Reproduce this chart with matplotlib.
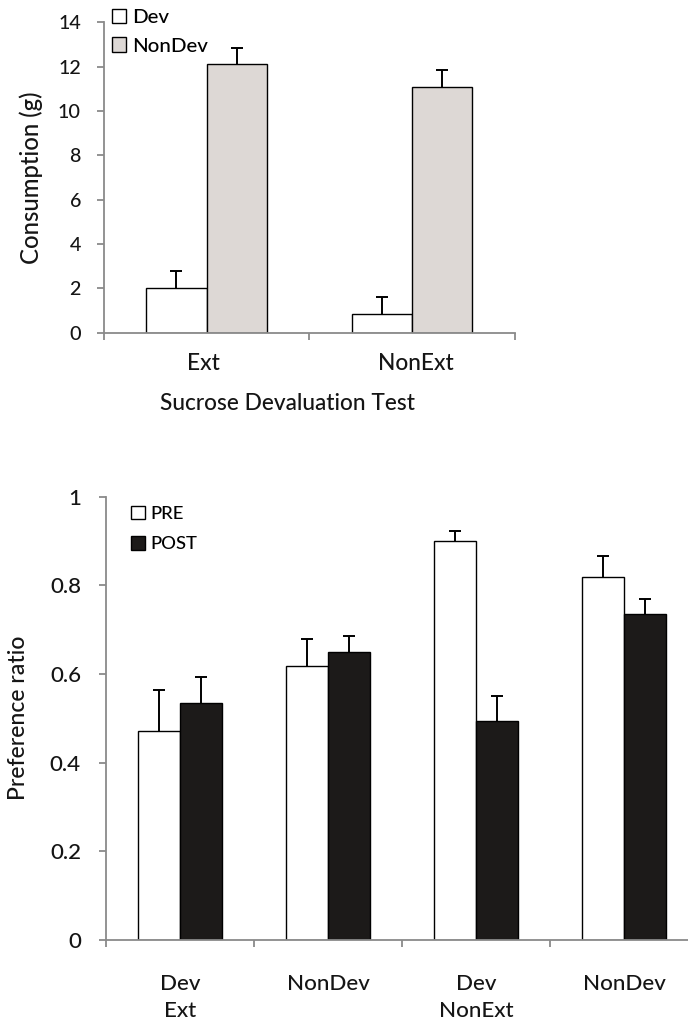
import matplotlib
matplotlib.use("Agg")
import matplotlib.pyplot as plt
import numpy as np

plt.rcParams['font.family'] = ['Lato', 'DejaVu Sans']
plt.rcParams['font.weight'] = 500

# ---- Top chart data ----
top_groups = ["Ext", "NonExt"]
top_series = ["Dev", "NonDev"]
top_dev = [2.0, 0.82]
top_dev_err = [0.78, 0.80]
top_nondev = [12.1, 11.1]
top_nondev_err = [0.72, 0.73]
top_yticks = [0, 2, 4, 6, 8, 10, 12, 14]

# ---- Bottom chart data ----
bot_cats = ["Dev", "NonDev", "Dev", "NonDev"]
bot_groups = ["Ext", "NonExt"]
bot_series = ["PRE", "POST"]
bot_pre = [0.471, 0.619, 0.900, 0.819]
bot_pre_err = [0.092, 0.059, 0.023, 0.048]
bot_post = [0.534, 0.649, 0.494, 0.736]
bot_post_err = [0.060, 0.036, 0.057, 0.032]
bot_yticks = [0, 0.2, 0.4, 0.6, 0.8, 1.0]
bot_yticklabels = ["0", "0.2", "0.4", "0.6", "0.8", "1"]

W, H = 688, 1026
DPI = 100
fig = plt.figure(figsize=(W / DPI, H / DPI), dpi=DPI)
renderer = fig.canvas.get_renderer()

AX_COL = "#8a8a8a"
GRAY = "#ddd8d5"
BLACK = "#1c1a19"
TXT = "#151515"
PT = 72 / DPI  # points per pixel


def fit(s, target_px):
    t = fig.text(0, 0, s, fontsize=10)
    w = t.get_window_extent(renderer=renderer).width
    t.remove()
    return 10 * target_px / w


fs_top_tick = fit("14", 23)
fs_bot_tick = fit("0.8", 31)
fs_top_cat = fit("NonExt", 76)
fs_xlabel = fit("Sucrose Devaluation Test", 256)
fs_bot_cat = fit("NonDev", 83)
fs_top_leg = fit("NonDev", 76)
fs_bot_leg = fit("POST", 47)
fs_ylab1 = fit("Consumption (g)", 173)
fs_ylab2 = fit("Preference ratio", 165)


def px_axes(left, right, top, bottom):
    return fig.add_axes([left / W, 1 - bottom / H, (right - left) / W, (bottom - top) / H])


def style(ax, fs_tick, pad_px):
    for s in ["top", "right"]:
        ax.spines[s].set_visible(False)
    for s in ["left", "bottom"]:
        ax.spines[s].set_color(AX_COL)
        ax.spines[s].set_linewidth(1.3)
    ax.tick_params(axis="y", direction="out", length=7 * PT, width=1.3, color=AX_COL,
                   labelsize=fs_tick, pad=pad_px * PT, labelcolor=TXT)
    ax.tick_params(axis="x", direction="out", length=7 * PT, width=1.3,
                   color=AX_COL, labelbottom=False)


def upper_err(ax, xs, ys, errs):
    tops = np.asarray(ys) + np.asarray(errs)
    ax.vlines(xs, ys, tops, colors="black", linewidth=1.4, zorder=1)
    ax.plot(xs, tops, ls="none", marker="_", ms=8.5, mew=1.4, color="black", zorder=1)


def under_label(ax, s, xdata, offset_px, fs, dx=0):
    ax.annotate(s, xy=(xdata, 0), xycoords=("data", "axes fraction"),
                xytext=(dx, -offset_px), textcoords="offset pixels",
                ha="center", va="baseline", fontsize=fs, color=TXT,
                annotation_clip=False)


# ---------- Top chart ----------
ax1 = px_axes(103.8, 514.7, 22.3, 332.5)
ngr = len(top_groups)
x = np.arange(ngr) + 0.5
bw = 0.294
ax1.bar(x - bw / 2, top_dev, bw, color="white", edgecolor="black", linewidth=1.0,
        label=top_series[0], zorder=2)
upper_err(ax1, x - bw / 2, top_dev, top_dev_err)
ax1.bar(x + bw / 2, top_nondev, bw, color=GRAY, edgecolor="black", linewidth=1.0,
        label=top_series[1], zorder=2)
upper_err(ax1, x + bw / 2, top_nondev, top_nondev_err)
ax1.set_xlim(0, ngr)
ax1.set_ylim(0, 14)
ax1.set_yticks(top_yticks)
ax1.set_xticks(np.arange(ngr + 1))
style(ax1, fs_top_tick, 15.8)
for i, g in enumerate(top_groups):
    under_label(ax1, g, x[i], 37.5, fs_top_cat, dx=(-3 if i == 0 else 4))
under_label(ax1, "Sucrose Devaluation Test", ngr / 2, 77.5, fs_xlabel, dx=-22)
ax1.annotate("Consumption (g)", xy=(31, 0.5), xycoords=("figure pixels", "axes fraction"),
             rotation=90, ha="center", va="center", fontsize=fs_ylab1, color=TXT)
fl = fs_top_leg * DPI / 72
ax1.legend(loc="upper left", bbox_to_anchor=(108 / W, 1 - 5 / H),
           bbox_transform=fig.transFigure, frameon=False,
           fontsize=fs_top_leg, handlelength=14 / fl, handleheight=14 / fl,
           handletextpad=6 / fl, labelspacing=0.15 + 8 / fl, borderaxespad=0, borderpad=0.2)

# ---------- Bottom chart ----------
ax2 = px_axes(106, 698, 496.6, 940)
nc = len(bot_cats)
x2 = np.arange(nc) + 0.5
bw2 = 0.284
ax2.bar(x2 - bw2 / 2, bot_pre, bw2, color="white", edgecolor="black", linewidth=1.0,
        label=bot_series[0], zorder=2)
upper_err(ax2, x2 - bw2 / 2, bot_pre, bot_pre_err)
ax2.bar(x2 + bw2 / 2, bot_post, bw2, color=BLACK, edgecolor="black", linewidth=1.0,
        label=bot_series[1], zorder=2)
upper_err(ax2, x2 + bw2 / 2, bot_post, bot_post_err)
ax2.set_xlim(0, nc)
ax2.set_ylim(0, 1)
ax2.set_yticks(bot_yticks)
ax2.set_yticklabels(bot_yticklabels)
ax2.set_xticks(np.arange(nc + 1))
style(ax2, fs_bot_tick, 18)
for i, c in enumerate(bot_cats):
    under_label(ax2, c, x2[i], 50, fs_bot_cat)
for gi, g in enumerate(bot_groups):
    under_label(ax2, g, x2[gi * 2], 76.7, fs_bot_cat)
ax2.annotate("Preference ratio", xy=(19, 0.5), xycoords=("figure pixels", "axes fraction"),
             rotation=90, ha="center", va="center", fontsize=fs_ylab2, color=TXT)
fl2 = fs_bot_leg * DPI / 72
ax2.legend(loc="upper left", bbox_to_anchor=(127 / W, 1 - 502 / H),
           bbox_transform=fig.transFigure, frameon=False,
           fontsize=fs_bot_leg, handlelength=14 / fl2, handleheight=14 / fl2,
           handletextpad=6 / fl2, labelspacing=0.5 + 5 / fl2, borderaxespad=0, borderpad=0.2)

fig.savefig("out.png", dpi=DPI)
